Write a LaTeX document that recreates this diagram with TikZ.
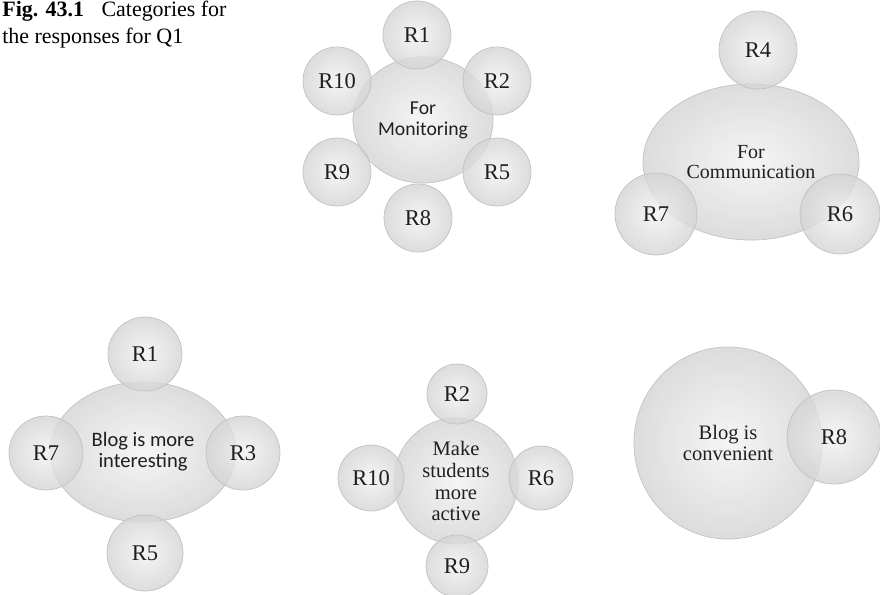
\documentclass[tikz,border=0pt]{standalone}
\usepackage{fontspec}
\setmainfont{Liberation Serif}
\newfontfamily\calibri{Carlito}
\usetikzlibrary{shapes.geometric}
\begin{document}
\begin{tikzpicture}[x=0.025cm, y=-0.025cm, line width=0.5pt,
    ball/.style={inner sep=0pt, draw=black!24, inner color=black!5, outer color=black!17,
      fill opacity=0.8, text opacity=1, text=black!88, align=center},
    bub/.style={ball, circle, minimum size=#1*0.05cm, font=\fontsize{16}{18}\selectfont},
    hub/.style n args={2}{ball, ellipse, minimum width=#1*0.05cm, minimum height=#2*0.05cm}]
  \useasboundingbox (0,0) rectangle (880,594);
  % caption
  \node[anchor=base west, align=left, inner sep=0pt, font=\fontsize{15.6}{18.5}\selectfont]
    (cap) at (2,43) {{\bfseries Fig. 43.1}\hspace{0.8em}Categories for\\the responses for Q1};
  % For Monitoring
  \node[hub={70}{63}, font=\calibri\fontsize{14}{15}\selectfont] (mon) at (423,120) {For\\Monitoring};
  \node[bub=34] (mon1) at (417,35) {R1};
  \node[bub=34] (mon2) at (497,81) {R2};
  \node[bub=34] (mon5) at (497,172) {R5};
  \node[bub=34] (mon8) at (418,218) {R8};
  \node[bub=34] (mon9) at (337,172) {R9};
  \node[bub=34] (mon10) at (337,81) {R10};
  % For Communication
  \node[hub={108}{78}, font=\fontsize{14.2}{14.4}\selectfont] (com) at (751,162) {For\\Communication};
  \node[bub=39] (com4) at (758,50) {R4};
  \node[bub=41] (com7) at (656,214) {R7};
  \node[bub=40] (com6) at (840,214) {R6};
  % Blog is more interesting
  \node[hub={93}{70}, font=\calibri\fontsize{14.6}{15}\selectfont] (int) at (143,452) {Blog is more\\interesting};
  \node[bub=37] (int1) at (145,354) {R1};
  \node[bub=37] (int7) at (46,453) {R7};
  \node[bub=37] (int3) at (243,453) {R3};
  \node[bub=38] (int5) at (145,553) {R5};
  % Make students more active
  \node[hub={62}{63}, font=\fontsize{14.6}{15.6}\selectfont] (act) at (456,481) {Make\\students\\more\\active};
  \node[bub=30] (act2) at (457,394) {R2};
  \node[bub=33] (act10) at (371,478) {R10};
  \node[bub=32] (act6) at (541,478) {R6};
  \node[bub=31] (act9) at (457,566) {R9};
  % Blog is convenient
  \node[hub={94}{96}, font=\fontsize{14.6}{15}\selectfont] (conv) at (728,443) {Blog is\\convenient};
  \node[bub=47] (conv8) at (834,437) {R8};
\end{tikzpicture}
\end{document}
